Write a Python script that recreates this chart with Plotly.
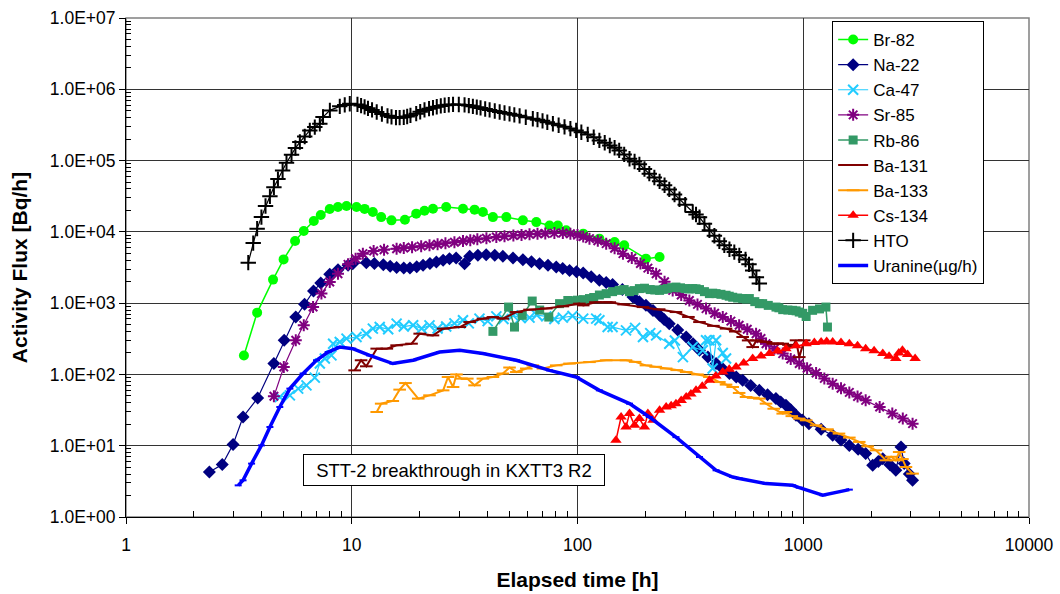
import plotly.graph_objects as go

# ---------------- data ----------------
br82_x = [3.33, 3.81, 4.48, 4.99, 5.61, 6.13, 6.79, 7.29, 7.99, 8.69, 9.48, 10.5, 11.4, 12.4, 13.5, 15.0,
          17.2, 19.3, 21.0, 22.9, 26.2, 31.1, 35.0, 38.1, 42.2, 48.4, 57.3, 65.7, 75.2, 81.8, 89.1, 106,
          125, 146, 161, 201, 231]
br82_y = [184, 736, 2140, 4110, 7430, 10300, 14200, 17200, 20900, 22300, 23000, 22300, 21000, 19000, 16100,
          14500, 14800, 18000, 19800, 21100, 22300, 21100, 20500, 19000, 16100, 16100, 14500, 13700, 12300,
          12300, 10500, 9440, 8030, 7190, 6470, 4210, 4430]

na22_x = [2.34, 2.67, 2.98, 3.30, 3.83, 4.52, 5.02, 5.65, 6.18, 6.77, 7.29, 7.99, 8.69, 9.63, 10.1, 11.6,
          12.6, 13.8, 14.8, 15.8, 17.0, 18.1, 19.4, 20.7, 22.2, 23.7, 25.4, 27.1, 29.0, 31.6, 33.3, 36.2,
          39.4, 43.0, 46.7, 51.8, 57.3, 62.5, 67.9, 74.0, 80.5, 86.0, 92.2, 99.0, 106, 115, 125, 134, 143,
          158, 176, 188, 201, 216, 231, 242, 255, 278, 303, 325, 347, 378, 411, 440, 471, 505, 539, 585,
          639, 695, 757, 795, 838, 880, 929, 990, 1060, 1200, 1350, 1470, 1600, 1750, 1890, 2030, 2150,
          2250, 2420, 2570, 2710, 2800, 2950, 3050]
na22_y = [4.28, 5.43, 10.4, 25.3, 46.7, 142, 301, 638, 962, 1480, 1910, 2540, 2950, 3390, 3580, 3700,
          3600, 3470, 3300, 3150, 3100, 3120, 3250, 3390, 3600, 3770, 4000, 4210, 4300, 3580, 4530, 4700,
          4790, 4700, 4530, 4300, 4070, 3800, 3580, 3400, 3210, 3050, 2880, 2750, 2640, 2350, 2090, 1950,
          1820, 1550, 1220, 1050, 931, 790, 674, 590, 516, 420, 335, 270, 218, 175, 142, 120, 103, 92,
          82.6, 70, 59.8, 52, 45.8, 41, 36.9, 32, 26.7, 23, 20.4, 17, 14.0, 12, 10.1, 8.9, 7.75, 5.31, 6.0,
          6.59, 5.4, 4.52, 9.59, 5.61, 4.0, 3.27]

ca47_x = [4.80, 5.32, 5.79, 6.30, 6.86, 7.22, 7.60, 8.13, 8.27, 8.85, 9.48, 10.5, 11.6, 12.4, 13.3, 14.5,
          15.8, 17.0, 18.7, 20.4, 22.1, 24.0, 26.2, 28.5, 31.1, 33.0, 36.8, 40.0, 43.7, 47.0, 51.8, 56.0,
          61.3, 66.0, 72.7, 79.0, 86.1, 95.0, 106, 121, 125, 136, 143, 164, 180, 195, 210, 223, 255, 270,
          293, 324, 359, 371, 384, 397, 411, 440, 455]
ca47_y = [48.2, 50.9, 63.2, 70.3, 90.2, 142, 167, 185, 270, 285, 318, 335, 373, 439, 462, 430,
          516, 470, 490, 440, 488, 440, 470, 520, 574, 520, 606, 560, 653, 600, 674, 620,
          626, 680, 653, 600, 626, 660, 606, 606, 574, 462, 462, 415, 450, 335, 380, 353, 270, 300,
          175, 242, 218, 301, 301, 121, 301, 200, 167]

sr85_x = [4.52, 5.0, 5.65, 6.13, 6.74, 7.34, 7.99, 8.69, 9.63, 10.4, 11.2, 12.5, 13.9, 15.8, 17.0, 18.5,
          20.3, 22.1, 24.0, 26.0, 28.5, 31.1, 33.5, 36.0, 39.5, 43.7, 47.5, 52.0, 56.5, 61.3, 66.5, 72.0,
          79.0, 86.1, 93.0, 100, 106, 113, 123, 134, 146, 159, 174, 190, 205, 223, 243, 264, 288, 313, 340,
          371, 405, 440, 478, 520, 565, 618, 650, 684, 745, 811, 880, 960, 1040, 1140, 1240, 1350, 1470,
          1600, 1740, 1890, 2180, 2480, 2760, 3050]
sr85_y = [49.3, 127, 301, 488, 881, 1360, 1980, 2590, 3500, 4200, 4950, 5400, 5600, 5810, 5950, 6100,
          6300, 6470, 6700, 6900, 7150, 7430, 7650, 7900, 8150, 8460, 8700, 8900, 9050, 9220, 9400, 9500,
          9600, 9620, 9400, 9000, 8600, 8030, 7500, 6830, 5900, 4950, 4300, 3600, 3100, 2590, 2000, 1510,
          1300, 1090, 960, 838, 720, 638, 560, 490, 430, 373, 320, 270, 230, 196, 165, 142, 122, 105, 88,
          74.3, 64, 56, 49, 43.3, 35, 28.2, 24, 20.4]

rb86_x = [42.2, 49.5, 52.6, 56.9, 63.0, 68.0, 74.6, 83.3, 90.6, 95.0, 100, 106, 113, 118, 125, 134, 143,
          153, 161, 170, 178, 188, 198, 210, 220, 231, 240, 250, 262, 273, 286, 300, 312, 324, 335, 347,
          365, 384, 397, 411, 432, 455, 470, 487, 512, 539, 560, 577, 610, 639, 661, 700, 757, 780, 811,
          855, 897, 930, 960, 995, 1030, 1100, 1180, 1260, 1280]
rb86_y = [402, 881, 462, 674, 1070, 800, 638, 984, 1090, 1080, 1100, 1120, 1160, 1200, 1300, 1360, 1450,
          1510, 1550, 1450, 1500, 1600, 1620, 1550, 1530, 1510, 1560, 1600, 1650, 1680, 1640, 1600, 1580,
          1600, 1590, 1550, 1450, 1360, 1380, 1360, 1330, 1290, 1250, 1210, 1180, 1160, 1140, 1160, 1050,
          984, 984, 930, 881, 860, 811, 800, 793, 780, 750, 720, 650, 793, 830, 881, 462]

ba131_x = [10.3, 11.0, 11.6, 12.9, 14.3, 15.8, 18.4, 20.0, 22.9, 25.4, 30.1, 33.3, 38.1, 42.2, 46.7, 53.6,
           61.3, 72.7, 86.1, 102, 106, 120, 134, 139, 160, 195, 230, 273, 310, 347, 400, 455, 500, 539,
           570, 597, 620, 650, 684, 733, 770, 811, 860, 897, 929, 960, 1010]
ba131_y = [114, 158, 130, 230, 230, 256, 270, 373, 353, 439, 462, 543, 606, 638, 606, 750,
           811, 843, 902, 984, 931, 1030, 1030, 1030, 960, 881, 820, 750, 640, 543, 480, 439, 400, 335,
           300, 242, 300, 290, 285, 270, 272, 270, 260, 242, 301, 175, 301]

ba133_x = [12.9, 13.5, 15.2, 16.3, 17.3, 19.7, 22.1, 25.4, 26.7, 28.1, 29.1, 30.6, 32.5, 35.0, 38.1, 42.2,
           46.7, 50.0, 53.6, 59.3, 63.4, 70.3, 80.5, 92.2, 113, 134, 164, 180, 201, 222, 247, 275, 303,
           340, 384, 425, 455, 487, 520, 558, 600, 639, 684, 740, 811, 838, 890, 960, 1030, 1140, 1280,
           1440, 1600, 1770, 1930, 2100, 2320, 2450, 2570, 2660, 2750, 2850, 3050]
ba133_y = [29.7, 38.9, 42.4, 61.2, 75.7, 45.8, 50.9, 59.8, 92, 66.6, 100, 87.3, 87.3, 70.3, 87.3, 92,
           103, 125, 108, 121, 134, 121, 134, 142, 149, 158, 158, 150, 134, 128, 121, 115, 108,
           100, 92, 78.2, 72, 66.6, 55, 48.2, 47, 45.8, 38.9, 33, 28.2, 29.7, 26, 24.0, 22.7, 19.3, 17,
           14.8, 13, 11.3, 9.8, 8.62, 6.24, 7.0, 6.24, 8.16, 6.5, 5.03, 4.06]

cs134_x = [148, 156, 164, 170, 179, 188, 198, 205, 216, 231, 247, 260, 273, 288, 303, 318, 335, 357, 384,
           410, 440, 470, 504, 545, 597, 650, 708, 770, 838, 930, 1030, 1120, 1200, 1270, 1350, 1470, 1600,
           1740, 1890, 2060, 2250, 2400, 2570, 2650, 2750, 2900, 3130]
cs134_y = [11.9, 25.3, 18.3, 28.2, 19.3, 24.0, 18.3, 28.2, 22.7, 31.4, 34.9, 36.5, 38.9, 43, 48.2, 53,
           59.8, 68, 82.6, 95, 108, 118, 127, 145, 167, 182, 196, 213, 230, 252, 270, 280, 285, 290, 285,
           280, 270, 252, 230, 215, 196, 180, 167, 200, 218, 190, 167]

hto_x = [3.48, 3.66, 3.81, 3.98, 4.15, 4.34, 4.52, 4.71, 4.94, 5.14, 5.41, 5.63, 5.89, 6.19, 6.52, 6.86,
         7.22, 7.46, 8.0, 8.85, 9.31, 9.8, 10.6, 11.0, 11.4, 11.8, 12.3, 12.9, 13.6, 14.4, 15.0, 15.7, 16.3,
         17.0, 17.6, 18.2, 19.3, 20.1, 21.0, 22.0, 22.9, 23.8, 24.8, 25.8, 26.9, 28.1, 29.8, 31.6, 33.0,
         34.4, 35.8, 37.2, 39.0, 40.8, 43.0, 45.2, 47.5, 50.0, 52.5, 55.4, 59.0, 63.4, 66.5, 70.0, 73.5,
         77.8, 82.5, 87.6, 93.0, 98.6, 104, 111, 118, 125, 132, 139, 146, 153, 161, 170, 179, 188, 198,
         208, 219, 231, 243, 255, 269, 283, 300, 324, 335, 347, 365, 384, 404, 425, 447, 471, 495, 521,
         555, 575, 597, 620, 639]
hto_y = [3700, 6960, 11100, 16100, 23000, 31500, 42100, 55000, 72800, 93400, 121000, 150000, 182000,
         218000, 265000, 295000, 329000, 408000, 506000, 576000, 604000, 628000, 614000, 590000, 566000,
         540000, 514000, 479000, 450000, 424000, 410000, 400000, 400000, 404000, 415000, 431000, 455000,
         485000, 514000, 535000, 552000, 570000, 585000, 598000, 608000, 614000, 612000, 604000, 590000,
         576000, 562000, 548000, 530000, 514000, 495000, 479000, 465000, 452000, 438000, 424000, 405000,
         387000, 375000, 361000, 345000, 329000, 313000, 297000, 281000, 265000, 250000, 233000, 212000,
         192000, 178000, 163000, 151000, 139000, 122000, 106000, 97000, 88500, 76000, 65500, 58000, 51100,
         45000, 39400, 33500, 28600, 24000, 19000, 17500, 16000, 13000, 10500, 8800, 7360, 6500, 5690,
         5200, 4680, 4100, 3500, 2880, 2300, 1880]

uranine_x = [3.14, 3.30, 3.60, 3.98, 4.34, 4.80, 5.32, 6.09, 6.98, 7.86, 8.85, 10.1, 12.0, 15.2, 18.7,
             24.5, 30.1, 38.1, 53.6, 75.2, 98.6, 125, 170, 208, 273, 347, 411, 487, 521, 684, 897, 960,
             1220, 1600]
uranine_y = [2.78, 3.27, 5.61, 10.1, 18.3, 34.9, 63.2, 103, 158, 206, 242, 230, 185, 142, 158,
             206, 218, 196, 158, 114, 92, 59.8, 38.9, 25.3, 13.2, 6.94, 4.52, 3.64, 3.46, 2.94, 2.78, 2.58,
             2.02, 2.42]

x_tickvals = [1, 10, 100, 1000, 10000]
x_ticktext = ["1", "10", "100", "1000", "10000"]
y_tickvals = [1, 10, 100, 1000, 1e4, 1e5, 1e6, 1e7]
y_ticktext = ["1.0E+00", "1.0E+01", "1.0E+02", "1.0E+03", "1.0E+04", "1.0E+05", "1.0E+06", "1.0E+07"]

FONT = "Liberation Sans, Arial, sans-serif"

series = [
    ("Br-82", br82_x, br82_y, "#00FF00", "circle", 10, 1.5),
    ("Na-22", na22_x, na22_y, "#000080", "diamond", 10, 1.2),
    ("Ca-47", ca47_x, ca47_y, "#22CCFF", "x-thin-open", 10, 1.2),
    ("Sr-85", sr85_x, sr85_y, "#800080", "asterisk-open", 10, 1.2),
    ("Rb-86", rb86_x, rb86_y, "#339966", "square", 9, 1.5),
    ("Ba-131", ba131_x, ba131_y, "#800000", "line-ew-open", 9, 2),
    ("Ba-133", ba133_x, ba133_y, "#FF9900", "line-ew-open", 9, 2),
    ("Cs-134", cs134_x, cs134_y, "#FF0000", "triangle-up", 10, 1.5),
    ("HTO", hto_x, hto_y, "#000000", "cross-thin-open", 11, 1.2),
    ("Uranine(µg/h)", uranine_x, uranine_y, "#0000FF", "line-ew-open", 5, 3.5),
]

fig = go.Figure()
for i, (name, xs, ys, col, sym, size, lw) in enumerate(series):
    pts = sorted(zip(xs, ys))
    open_sym = sym.endswith("open")
    fig.add_trace(go.Scatter(
        x=[p[0] for p in pts], y=[p[1] for p in pts], name=name, mode="lines+markers",
        line=dict(color=col, width=lw),
        marker=dict(symbol=sym, size=size, color=col,
                    line=dict(color=col, width=2 if open_sym else 0)),
        legendgroup=f"g{i}",
    ))

minor_x = [m * 10 ** k for k in range(0, 4) for m in range(2, 10)]
minor_y = [m * 10 ** k for k in range(0, 7) for m in range(2, 10)]

fig.update_layout(
    width=1060, height=594,
    margin=dict(l=126, r=31, t=18, b=77, autoexpand=False),
    paper_bgcolor="white", plot_bgcolor="white",
    font=dict(family=FONT, color="black"),
    showlegend=True,
    legend=dict(x=0.782, y=0.994, xanchor="left", yanchor="top",
                bgcolor="white", bordercolor="black", borderwidth=1,
                font=dict(family=FONT, size=17), tracegroupgap=0,
                entrywidth=185, entrywidthmode="pixels"),
    xaxis=dict(type="log", range=[0, 4], tickmode="array", tickvals=x_tickvals, ticktext=x_ticktext,
               automargin=False,
               showgrid=True, gridcolor="#333333", gridwidth=1, zeroline=False,
               showline=True, linecolor="black", linewidth=1,
               ticks="outside", ticklen=6, tickcolor="black", ticklabelstandoff=6,
               minor=dict(tickmode="array", tickvals=minor_x, ticks="inside", ticklen=6,
                          tickcolor="black", showgrid=False),
               tickfont=dict(family=FONT, size=17.5),
               title=dict(text="<b>Elapsed time [h]</b>", font=dict(family=FONT, size=21), standoff=18)),
    yaxis=dict(type="log", range=[0, 7], tickmode="array", tickvals=y_tickvals, ticktext=y_ticktext,
               automargin=False,
               showgrid=True, gridcolor="#333333", gridwidth=1, zeroline=False,
               showline=True, linecolor="black", linewidth=1,
               ticks="outside", ticklen=6, tickcolor="black",
               minor=dict(tickmode="array", tickvals=minor_y, ticks="inside", ticklen=5,
                          tickcolor="black", showgrid=False),
               tickfont=dict(family=FONT, size=17.5),
               title=dict(text="<b>Activity Flux [Bq/h]</b>", font=dict(family=FONT, size=21), standoff=16)),
    shapes=[dict(type="rect", xref="x domain", yref="y domain", x0=0, x1=1, y0=0, y1=1,
                 line=dict(color="#808080", width=1.5), layer="below")],
    annotations=[dict(text="STT-2 breakthrough in KXTT3 R2", xref="paper", yref="paper",
                      x=0.3632, y=0.0942, xanchor="center", yanchor="middle", showarrow=False,
                      font=dict(family=FONT, size=18.5, color="black"),
                      bgcolor="white", bordercolor="black", borderwidth=1, borderpad=3,
                      width=294, height=24)],
)

fig.write_html("out.html", config={"displayModeBar": False},
               post_script="document.body.style.margin='0px';")
